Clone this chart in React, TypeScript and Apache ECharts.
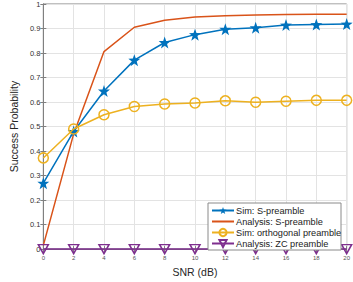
import React, { useEffect, useRef } from "react";
import * as echarts from "echarts";

const snr = [0, 2, 4, 6, 8, 10, 12, 14, 16, 18, 20];
const simS = [0.269, 0.48, 0.645, 0.771, 0.843, 0.875, 0.897, 0.903, 0.914, 0.916, 0.918];
const anaS = [0.015, 0.47, 0.806, 0.905, 0.934, 0.947, 0.952, 0.955, 0.957, 0.958, 0.958];
const simOrth = [0.372, 0.49, 0.548, 0.582, 0.592, 0.596, 0.605, 0.599, 0.603, 0.607, 0.607];
const anaZC = [0, 0, 0, 0, 0, 0, 0, 0, 0, 0, 0];
const xTicks = [0, 2, 4, 6, 8, 10, 12, 14, 16, 18, 20];
const seriesNames = ["Sim: S-preamble", "Analysis: S-preamble", "Sim: orthogonal preamble", "Analysis: ZC preamble"];

const STAR =
  "path://M0,-10 L2.35,-3.24 L9.51,-3.09 L3.8,1.24 L5.88,8.09 L0,4 L-5.88,8.09 L-3.8,1.24 L-9.51,-3.09 L-2.35,-3.24 Z";

const pair = (ys: number[]) => snr.map((x, i) => [x, ys[i]]);

export default function App() {
  const ref = useRef<HTMLDivElement>(null);
  useEffect(() => {
    if (!ref.current) return;
    const chart = echarts.init(ref.current, undefined, { renderer: "svg" });
    const font = "Liberation Sans, Arial, sans-serif";
    const axisGrey = "#808080";
    chart.setOption({
      animation: false,
      textStyle: { fontFamily: font },
      grid: { left: 25, right: 6, top: 3, bottom: 26, show: true, borderColor: axisGrey, borderWidth: 1 },
      graphic: [
        {
          type: "rect",
          z: 20,
          shape: { x: 208, y: 203, width: 133, height: 47 },
          style: { fill: "#fff", stroke: "#8a8a8a", lineWidth: 1 },
        },
      ],
      xAxis: [
        {
          type: "value",
          min: 0,
          max: 20,
          interval: 2,
          name: "SNR (dB)",
          nameLocation: "middle",
          nameGap: 16,
          nameTextStyle: { fontSize: 10.5, color: "#262626", fontFamily: font },
          axisLine: { show: true, lineStyle: { color: axisGrey } },
          axisTick: { show: true, inside: true, length: 3, lineStyle: { color: axisGrey } },
          axisLabel: { fontSize: 6, color: "#555", margin: 6, formatter: (v: number) => (xTicks.includes(v) ? String(v) : "") },
          splitLine: { show: true, lineStyle: { color: "#e3e3e3", width: 1 } },
        },
        {
          type: "value",
          position: "top",
          min: 0,
          max: 20,
          interval: 2,
          axisLine: { show: true, lineStyle: { color: axisGrey } },
          axisTick: { show: true, inside: true, length: 3, lineStyle: { color: axisGrey } },
          axisLabel: { show: false },
          splitLine: { show: false },
        },
      ],
      yAxis: [
        {
          type: "value",
          min: 0,
          max: 1,
          interval: 0.1,
          name: "Success Probability",
          nameLocation: "middle",
          nameGap: 18,
          nameTextStyle: { fontSize: 10.5, color: "#262626", fontFamily: font },
          axisLine: { show: true, lineStyle: { color: axisGrey } },
          axisTick: { show: true, inside: true, length: 3, lineStyle: { color: axisGrey } },
          axisLabel: { fontSize: 7.5, color: "#333", margin: 3, formatter: (v: number) => (v === 0 ? "0" : v === 1 ? "1" : v.toFixed(1)) },
          splitLine: { show: true, lineStyle: { color: "#e3e3e3", width: 1 } },
        },
        {
          type: "value",
          position: "right",
          min: 0,
          max: 1,
          interval: 0.1,
          axisLine: { show: true, lineStyle: { color: axisGrey } },
          axisTick: { show: true, inside: true, length: 3, lineStyle: { color: axisGrey } },
          axisLabel: { show: false },
          splitLine: { show: false },
        },
      ],
      legend: {
        orient: "vertical",
        left: 208,
        top: 203,
        z: 21,
        padding: [2, 0, 0, 3],
        itemGap: 0,
        itemWidth: 22,
        itemHeight: 9,
        borderWidth: 0,
        textStyle: { fontSize: 9.2, lineHeight: 11, color: "#222", fontFamily: font, padding: [0, 0, 0, -3] },
        data: [
          { name: seriesNames[0] },
          { name: seriesNames[1], itemStyle: { opacity: 0 } },
          { name: seriesNames[2] },
          { name: seriesNames[3] },
        ],
      },
      series: [
        {
          name: seriesNames[0],
          type: "line",
          data: pair(simS),
          color: "#0072BD",
          symbol: STAR,
          symbolSize: 12,
          lineStyle: { width: 1.5, color: "#0072BD" },
          itemStyle: { color: "#0072BD" },
          z: 4,
        },
        {
          name: seriesNames[1],
          type: "line",
          data: pair(anaS),
          color: "#D95319",
          symbol: "none",
          lineStyle: { width: 1.5, color: "#D95319" },
          z: 3,
        },
        {
          name: seriesNames[2],
          type: "line",
          data: pair(simOrth),
          color: "#EDB120",
          symbol: "circle",
          symbolSize: 10,
          lineStyle: { width: 1.5, color: "#EDB120" },
          itemStyle: { color: "rgba(255,255,255,0)", borderColor: "#EDB120", borderWidth: 1.5 },
          z: 5,
        },
        {
          name: seriesNames[3],
          type: "line",
          data: pair(anaZC),
          color: "#7E2F8E",
          symbol: "triangle",
          symbolRotate: 180,
          symbolSize: [10, 9],
          clip: false,
          lineStyle: { width: 1.5, color: "#7E2F8E" },
          itemStyle: { color: "rgba(255,255,255,0)", borderColor: "#7E2F8E", borderWidth: 1.5 },
          z: 6,
        },
      ],
    });
    return () => chart.dispose();
  }, []);
  return <div ref={ref} style={{ width: 353, height: 282, position: "absolute", left: 0, top: 0 }} />;
}
